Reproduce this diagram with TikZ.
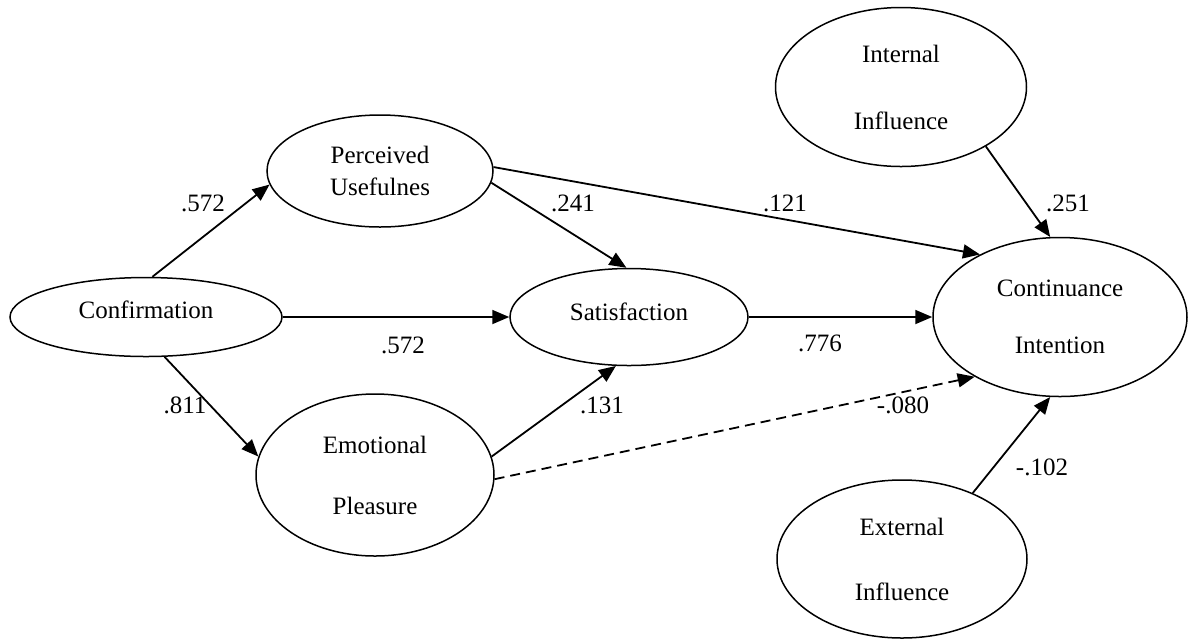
\documentclass[tikz,border=0pt]{standalone}
\usepackage{fontspec}
\setmainfont{Liberation Serif}
\usetikzlibrary{arrows.meta,shapes.geometric}

\begin{document}
\begin{tikzpicture}[x=0.5pt, y=-0.5pt,
      font=\fontsize{12.5}{16}\selectfont,
      var/.style={ellipse, draw, line width=0.75pt, inner sep=0pt, align=center},
      arr/.style={-{Triangle[length=8.5pt,width=7pt]}, line width=0.9pt},
      arrD/.style={arr, dash pattern=on 5pt off 3pt},
      coef/.style={inner sep=0pt},
    ]
    \useasboundingbox (0,0) rectangle (1190,639);

    % constructs
    \node[var, minimum width=136pt, minimum height=39.5pt, text depth=7pt] (conf) at (146,317) {Confirmation};
    \node[var, minimum width=113pt, minimum height=56pt] (pu) at (380,171) {Perceived\\Usefulnes};
    \node[var, minimum width=119pt, minimum height=48.5pt, text depth=5pt] (sat) at (629,317) {Satisfaction};
    \node[var, minimum width=119pt, minimum height=81pt] (ep) at (375,475) {Emotional\\[14.5pt]Pleasure};
    \node[var, minimum width=125.5pt, minimum height=79.5pt] (ii) at (901,87) {Internal\\[17.5pt]Influence};
    \node[var, minimum width=127pt, minimum height=79.5pt] (ci) at (1060,317) {Continuance\\[12.5pt]Intention};
    \node[var, minimum width=125pt, minimum height=79pt] (ei) at (902,559) {External\\[16.5pt]Influence};

    % paths
    \draw[arr] (conf.81)  -- (pu.187);
    \draw[arr] (conf.east) -- (sat.west);
    \draw[arr] (conf.-65) -- (ep.171);
    \draw[arr] (pu.-6)    -- (sat.93);
    \draw[arr] (pu.2)     -- (ci.142);
    \draw[arr] (ep.9)     -- (sat.-105);
    \draw[arrD] (ep.-2)   -- (ci.215);
    \draw[arr] (sat.east) -- (ci.west);
    \draw[arr] (ii.-35)   -- (ci.97);
    \draw[arr] (ei.43)    -- (ci.-97);

    % coefficients
    \node[coef] (c1)  at (203,203)  {.572};
    \node[coef] (c2)  at (403,345)  {.572};
    \node[coef] (c3)  at (185,405)  {.811};
    \node[coef] (c4)  at (573,203)  {.241};
    \node[coef] (c5)  at (785,203)  {.121};
    \node[coef] (c6)  at (602,405)  {.131};
    \node[coef] (c7)  at (820,343)  {.776};
    \node[coef] (c8)  at (903,405)  {-.080};
    \node[coef] (c9)  at (1068,203) {.251};
    \node[coef] (c10) at (1042,467) {-.102};
  \end{tikzpicture}
\end{document}
